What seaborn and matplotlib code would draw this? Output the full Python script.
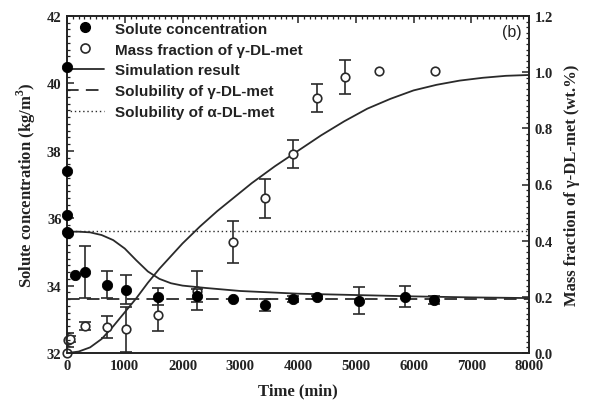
import numpy as np
import pandas as pd
import matplotlib
matplotlib.use("Agg")
import matplotlib.pyplot as plt
from matplotlib.ticker import MultipleLocator, FixedLocator
from matplotlib.lines import Line2D
import seaborn as sns

# ---- data ----
conc_t = [0, 0, 0, 0, 20, 140, 312, 687, 1022, 1582, 2246, 2878, 3429, 3920, 4324, 5056, 5853, 6361]
conc_v = [40.5, 37.4, 36.1, 35.6, 35.55, 34.3, 34.4, 34.02, 33.88, 33.67, 33.70, 33.6, 33.42, 33.6, 33.65, 33.55, 33.67, 33.58]
conc_e = [0, 0, 0, 0, 0, 0, 0.78, 0.4, 0.43, 0.25, 0.2, 0, 0.18, 0.1, 0.05, 0.4, 0.31, 0.12]

frac_t = [0, 20, 60, 312, 687, 1022, 1582, 2246, 2878, 3429, 3920, 4324, 4815, 5410, 6372]
frac_v = [0.0, 0.045, 0.05, 0.096, 0.092, 0.084, 0.135, 0.222, 0.395, 0.551, 0.709, 0.907, 0.982, 1.005, 1.005]
frac_e = [0, 0.025, 0.01, 0.015, 0.04, 0.08, 0.058, 0.07, 0.076, 0.07, 0.05, 0.05, 0.06, 0, 0]

simc_t = [0, 200, 400, 600, 800, 1000, 1200, 1400, 1600, 1800, 2000, 2400, 3000, 4000, 5000, 6000, 7000, 8000]
simc_v = [35.6, 35.6, 35.58, 35.5, 35.35, 35.1, 34.75, 34.42, 34.2, 34.07, 34.0, 33.93, 33.84, 33.76, 33.72, 33.68, 33.65, 33.63]

simf_t = [0, 200, 400, 600, 800, 1000, 1200, 1400, 1600, 1800, 2000, 2300, 2600, 2900, 3200, 3600, 4000,
          4400, 4800, 5200, 5600, 6000, 6400, 6800, 7200, 7600, 8000]
simf_v = [0, 0.005, 0.02, 0.05, 0.095, 0.145, 0.195, 0.25, 0.30, 0.345, 0.39, 0.45, 0.505, 0.555, 0.605, 0.665, 0.72,
          0.775, 0.825, 0.87, 0.905, 0.935, 0.955, 0.97, 0.98, 0.987, 0.99]

sol_gamma = 33.6
sol_alpha = 35.62

x_ticks = [0, 1000, 2000, 3000, 4000, 5000, 6000, 7000, 8000]
yl_ticks = [32, 34, 36, 38, 40, 42]
yr_ticks = [0.0, 0.2, 0.4, 0.6, 0.8, 1.0, 1.2]

conc_df = pd.DataFrame({"t": conc_t, "v": conc_v, "e": conc_e})
frac_df = pd.DataFrame({"t": frac_t, "v": frac_v, "e": frac_e})
simc_df = pd.DataFrame({"t": simc_t, "v": simc_v})
simf_df = pd.DataFrame({"t": simf_t, "v": simf_v})

sns.set_theme(style="white")
plt.rcParams['font.family'] = ['Liberation Serif', 'DejaVu Serif']
plt.rcParams['mathtext.fontset'] = 'custom'
plt.rcParams['mathtext.rm'] = 'Liberation Serif:bold'
plt.rcParams['mathtext.bf'] = 'Liberation Serif:bold'

fig = plt.figure(figsize=(5.93, 4.10), dpi=100)
ax = fig.add_axes([67/593, 1-354/410, (529-67)/593, (354-17)/410])
ax2 = ax.twinx()

lc = "#2a2a2a"

# horizontal solubility lines
ax.axhline(sol_gamma, color=lc, lw=1.3, ls=(0, (7, 4)), zorder=2)
ax.axhline(sol_alpha, color=lc, lw=1.0, ls=(0, (1, 2)), zorder=2)

# simulation curves
sns.lineplot(data=simc_df, x="t", y="v", ax=ax, color=lc, lw=1.3, zorder=3)
sns.lineplot(data=simf_df, x="t", y="v", ax=ax2, color=lc, lw=1.3, zorder=3)

# error bars
ce = conc_df[conc_df.e > 0]
ax.errorbar(ce.t, ce.v, yerr=ce.e, fmt="none", ecolor=lc, elinewidth=1.2, capsize=4, capthick=1.2, zorder=4)
fe = frac_df[frac_df.e > 0]
ax2.errorbar(fe.t, fe.v, yerr=fe.e, fmt="none", ecolor=lc, elinewidth=1.2, capsize=4, capthick=1.2, zorder=4)

# points
sns.scatterplot(data=conc_df, x="t", y="v", ax=ax, color="black", s=55, edgecolor="black", zorder=5, clip_on=False)
sns.scatterplot(data=frac_df, x="t", y="v", ax=ax2, facecolor="white", edgecolor=lc, linewidth=1.2, s=38, zorder=5, clip_on=False)

ax.set_xlim(0, 8000)
ax.set_ylim(32, 42)
ax2.set_ylim(0, 1.2)

ax.set_xticks(x_ticks)
ax.set_xticklabels([str(v) for v in x_ticks], fontweight="bold")
ax.set_yticks(yl_ticks)
ax.set_yticklabels([str(v) for v in yl_ticks], fontweight="bold")
ax2.set_yticks(yr_ticks)
ax2.set_yticklabels([f"{v:.1f}" for v in yr_ticks], fontweight="bold")

ax.xaxis.set_minor_locator(MultipleLocator(100))
ax.yaxis.set_minor_locator(MultipleLocator(0.2))
ax2.yaxis.set_minor_locator(MultipleLocator(0.02))

for a in (ax, ax2):
    for s in a.spines.values():
        s.set_color("#222222")
        s.set_linewidth(1.2)
ax.tick_params(axis="both", which="major", direction="in", length=5, width=1.1, colors="#222222",
               top=True, labelsize=10.5, pad=4)
ax.tick_params(axis="both", which="minor", direction="in", length=2.5, width=0.9, colors="#222222", top=True)
ax.tick_params(axis="y", right=False, which="both")
ax2.tick_params(axis="y", which="major", direction="in", length=5, width=1.1, colors="#222222", labelsize=10.5, pad=4)
ax2.tick_params(axis="y", which="minor", direction="in", length=2.5, width=0.9, colors="#222222")

ax.set_xlabel("Time (min)", fontsize=12, fontweight="bold", color="#222222", labelpad=8)
ax.set_ylabel(r"Solute concentration (kg/m$^{3}$)", fontsize=12, fontweight="bold", color="#222222", labelpad=6)
ax2.set_ylabel("Mass fraction of γ-DL-met (wt.%)", fontsize=12, fontweight="bold", color="#222222", labelpad=8)

ax.text(0.985, 0.975, "(b)", transform=ax.transAxes, ha="right", va="top",
        fontsize=11.5, family="Liberation Sans", color="#222222")

handles = [
    Line2D([], [], marker="o", ls="none", color="black", markersize=7),
    Line2D([], [], marker="o", ls="none", markerfacecolor="white", markeredgecolor=lc, markeredgewidth=1.2, markersize=6.5),
    Line2D([], [], color=lc, lw=1.3),
    Line2D([], [], color=lc, lw=1.3, ls=(0, (7, 4))),
    Line2D([], [], color=lc, lw=1.0, ls=(0, (1, 2))),
]
labels = ["Solute concentration", "Mass fraction of γ-DL-met", "Simulation result",
          "Solubility of γ-DL-met", "Solubility of α-DL-met"]
leg = ax2.legend(handles, labels, loc="upper left", bbox_to_anchor=(-0.025, 1.015), frameon=False,
                 prop={"family": "Liberation Sans", "size": 11, "weight": "bold"},
                 handlelength=2.5, handletextpad=0.7, labelspacing=0.45, borderaxespad=0.3)
for t in leg.get_texts():
    t.set_color("#222222")

ax.set_zorder(ax2.get_zorder() + 1)
ax.patch.set_visible(False)

fig.savefig("out.png", dpi=100)
